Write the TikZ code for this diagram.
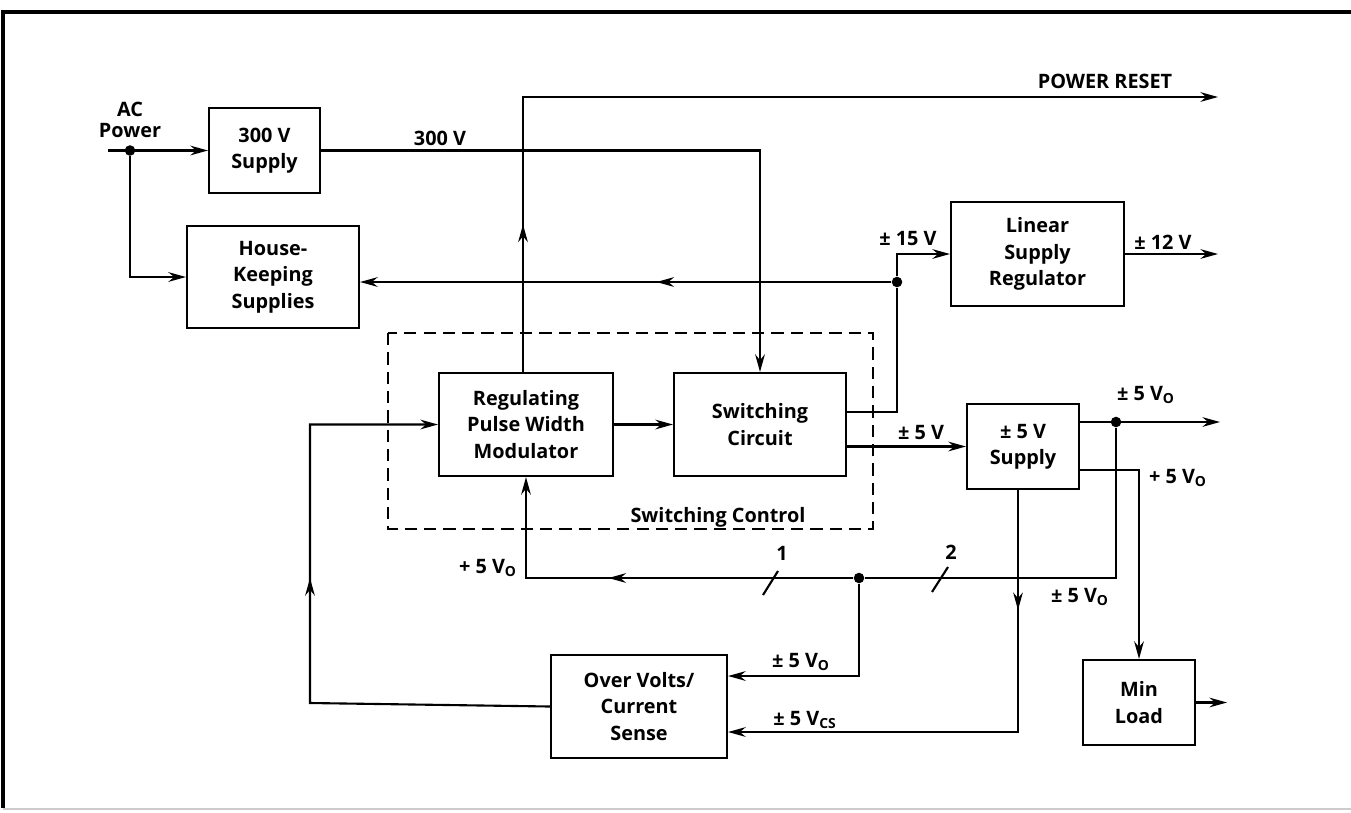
\documentclass[tikz,border=0pt]{standalone}
\usepackage{fontspec}
\setmainfont{Open Sans}
\usetikzlibrary{arrows.meta,decorations.markings}

\tikzset{
  blk/.style={draw, line width=1.2pt, align=center, inner sep=0pt,
    font=\bfseries\fontsize{11.3}{15}\selectfont},
  lbl/.style={font=\bfseries\fontsize{11.3}{12}\selectfont, inner sep=1pt},
  wire/.style={line width=1.2pt},
  arr/.style={wire, -{Stealth[length=10pt,width=5.5pt]}},
  midarr/.style={postaction={decorate,decoration={markings,
    mark=at position #1 with {\arrow{Stealth[length=10pt,width=5.5pt]}}}}},
  junc/.style={circle, fill, inner sep=0pt, minimum size=6pt},
}

\begin{document}
\begin{tikzpicture}[x=0.02cm,y=-0.02cm]
        \useasboundingbox (0,0) rectangle (1351,812);

        % Frame
        \draw[line width=2pt] (3,808) -- (3,12) -- (1351,12);
        \draw[gray!40, line width=0.8pt] (3,809) -- (1351,809);

        % Switching control group
        \draw[wire, dashed, dash pattern=on 7pt off 4pt] (388,333) rectangle (873,529);
        \node[lbl] (ctl) at (718,517) {Switching Control};

        % Blocks
        \node[blk, minimum width=2.22cm, minimum height=1.70cm] (sup300) at (264.5,150.5) {300 V\\Supply};
        \node[blk, minimum width=3.44cm, minimum height=2.04cm] (hk) at (273,277) {House-\\Keeping\\Supplies};
        \node[blk, minimum width=3.48cm, minimum height=2.06cm] (pwm) at (526,424.5) {Regulating\\Pulse Width\\Modulator};
        \node[blk, minimum width=3.44cm, minimum height=2.06cm] (swc) at (760,424.5) {Switching\\Circuit};
        \node[blk, minimum width=3.46cm, minimum height=2.08cm] (lin) at (1037.5,254) {Linear\\Supply\\Regulator};
        \node[blk, minimum width=2.24cm, minimum height=1.70cm] (s5) at (1023,446.5) {± 5 V\\Supply};
        \node[blk, minimum width=3.52cm, minimum height=2.06cm] (ovs) at (639,706.5) {Over Volts/\\Current\\Sense};
        \node[blk, minimum width=2.24cm, minimum height=1.70cm] (minl) at (1139,702.5) {Min\\Load};

        % Junctions and free ends
        \coordinate (acin) at (108,150.5);
        \node[junc] (acdot) at (130,150.5) {};
        \node[junc] (dot15) at (897,282) {};
        \node[junc] (dotV) at (1116,422) {};
        \node[junc] (dotFB) at (859,578) {};
        \coordinate (outPR) at (1218,97);
        \coordinate (out12) at (1218,254);
        \coordinate (outV) at (1220,422);
        \coordinate (outML) at (1227,702.5);
        \coordinate (fbl) at (310,703);

        % AC power in
        \draw[arr] (acin) -- (sup300.west);
        \draw[arr] (acdot) |- (hk.west);

        % 300 V to switching circuit
        \draw[arr] (sup300.east) -| (swc.north);

        % Power reset
        \draw[arr, midarr=2.95cm] ([xshift=-0.06cm]pwm.north) |- (outPR);

        % +-15 V
        \draw[arr] ([yshift=0.25cm]swc.east) -| (dot15) |- (lin.west);
        \draw[arr, midarr=4.7cm] (dot15) -- (hk.east |- dot15);
        \draw[arr] (lin.east) -- (out12);

        % PWM to switching, switching to 5 V supply
        \draw[arr] (pwm.east) -- (swc.west);
        \draw[arr] (swc.east |- s5.west) -- (s5.west);

        % 5 V outputs
        \draw[arr] (s5.east |- dotV) -- (outV);
        \draw[arr] ([yshift=-0.47cm]s5.east) -| (minl.north);
        \draw[arr] (minl.east) -- (outML);
        \draw[arr, midarr=2.4cm] ([xshift=-0.1cm]s5.south) |- ([yshift=-0.51cm]ovs.east);

        % Feedback
        \draw[wire] (dotV) |- (dotFB);
        \draw[arr, midarr=4.9cm] (dotFB) -| (pwm.south);
        \draw[arr] (dotFB) |- ([yshift=0.61cm]ovs.east);
        \draw[arr, midarr=7.3cm] (ovs.west) -- (fbl) |- (pwm.west);

        % Bus marks
        \draw[wire] (763,595) -- (778,571);
        \draw[wire] (932,592) -- (948,567);

        % Labels
        \node[lbl, align=center] (lac) at (130,120) {AC\\Power};
        \node[lbl] (l300) at (440,138) {300 V};
        \node[lbl] (lpr) at (1105,81) {POWER RESET};
        \node[lbl] (l15) at (908,239) {± 15 V};
        \node[lbl] (l12) at (1163,242) {± 12 V};
        \node[lbl] (l5) at (921,432) {± 5 V};
        \node[lbl] (l5o) at (1146,395) {± 5 V\textsubscript{O}};
        \node[lbl] (lp5o) at (1178,478) {+ 5 V\textsubscript{O}};
        \node[lbl] (lfb) at (488,568) {+ 5 V\textsubscript{O}};
        \node[lbl] (lb1) at (782,553) {1};
        \node[lbl] (lb2) at (951,552) {2};
        \node[lbl] (lbus) at (1080,597) {± 5 V\textsubscript{O}};
        \node[lbl] (lovo) at (801,662) {± 5 V\textsubscript{O}};
        \node[lbl] (lcs) at (805,720) {± 5 V\textsubscript{CS}};
    \end{tikzpicture}
\end{document}
